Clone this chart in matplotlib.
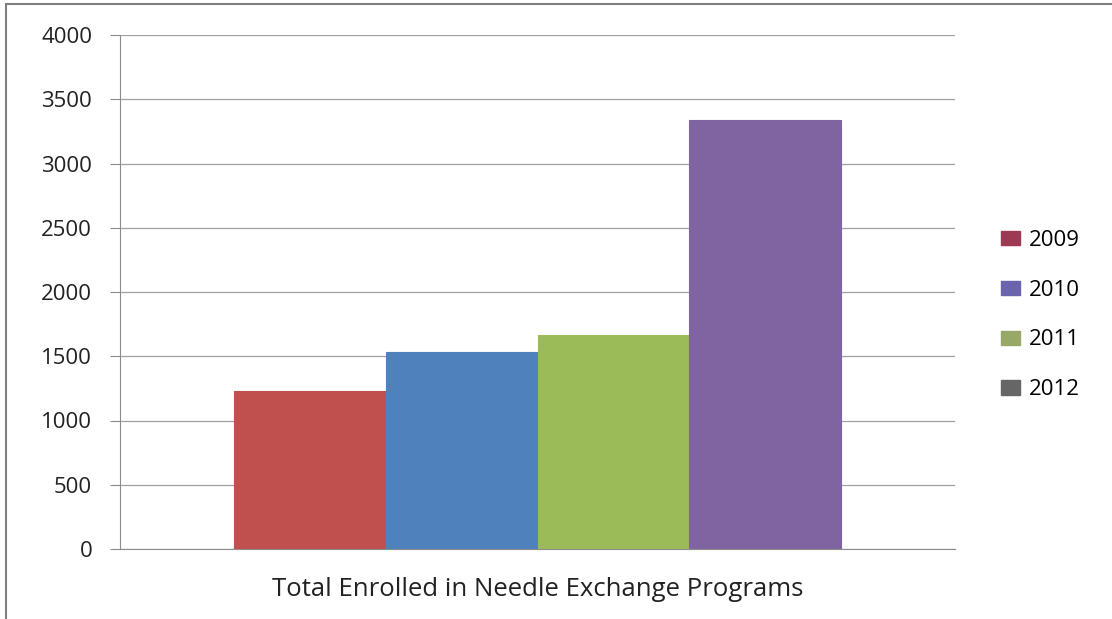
import matplotlib
matplotlib.use("Agg")
import matplotlib.pyplot as plt
from matplotlib.patches import Patch, Rectangle

category = "Total Enrolled in Needle Exchange Programs"
years = ["2009", "2010", "2011", "2012"]
values = [1230, 1535, 1665, 3335]
bar_colors = ["#c0504d", "#4f81bd", "#9bbb59", "#8064a2"]
legend_colors = ["#9b3a52", "#6a64ac", "#98a866", "#666666"]
yticks = [0, 500, 1000, 1500, 2000, 2500, 3000, 3500, 4000]

plt.rcParams['font.family'] = ['Open Sans', 'DejaVu Sans']

fig = plt.figure(figsize=(11.12, 6.19), dpi=100)
ax = fig.add_axes([120/1112, 1 - 549/619, (955-120)/1112, (549-35)/619])

group_w = 0.726
bw = group_w / len(values)
for i, (v, c) in enumerate(zip(values, bar_colors)):
    x = -group_w/2 + bw*(i + 0.5)
    ax.bar(x, v, width=bw, color=c, edgecolor=c, linewidth=0.8, zorder=3)

ax.set_xlim(-0.5, 0.5)
ax.set_ylim(0, 4000)
ax.set_yticks(yticks)
ax.set_yticklabels([str(t) for t in yticks], fontsize=16, color="#222222")
ax.set_xticks([])
ax.set_xlabel(category, fontsize=18.5, color="#222222", labelpad=20)
ax.yaxis.grid(True, color="#a0a0a0", linewidth=0.9, zorder=0)
for s in ["top", "right"]:
    ax.spines[s].set_visible(False)
ax.spines["left"].set_color("#8c8c8c")
ax.spines["bottom"].set_color("#8c8c8c")
ax.tick_params(axis='y', direction='out', length=7, color="#8c8c8c", pad=13)

handles = [Patch(facecolor=c, edgecolor=c) for c in legend_colors]
fig.legend(handles, years, loc="center left", bbox_to_anchor=(1001/1112, 1 - 315/619),
           frameon=False, fontsize=16, handlelength=0.85, handleheight=0.6,
           labelspacing=1.3, handletextpad=0.4, borderaxespad=0, borderpad=0)

# outer frame
fig.add_artist(Rectangle((6/1112, -0.01), 1.1, 1 - 4/619 + 0.01, transform=fig.transFigure,
                         fill=False, edgecolor="#7f7f7f", linewidth=1.5))

fig.savefig("out.png", dpi=100)
